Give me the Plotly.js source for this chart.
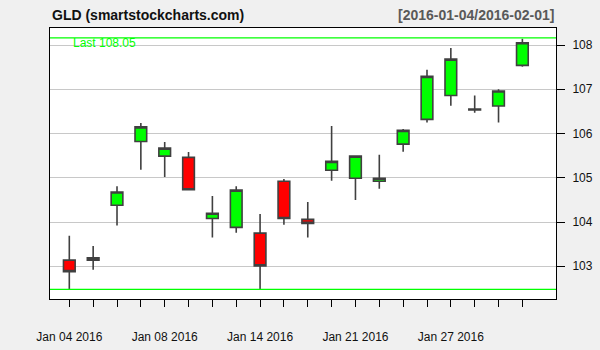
<!DOCTYPE html>
<html>
<head>
<meta charset="utf-8">
<script src="https://cdn.plot.ly/plotly-3.0.1.min.js"></script>
<style>
  html, body { margin: 0; padding: 0; background: #f0f0f0; }
  #chart { width: 600px; height: 350px; }
</style>
</head>
<body>
<div id="chart"></div>
<script>
const dates = ['2016-01-04','2016-01-05','2016-01-06','2016-01-07','2016-01-08',
               '2016-01-11','2016-01-12','2016-01-13','2016-01-14','2016-01-15',
               '2016-01-19','2016-01-20','2016-01-21','2016-01-22','2016-01-25',
               '2016-01-26','2016-01-27','2016-01-28','2016-01-29','2016-02-01'];
const openV  = [103.14,103.14,104.38,105.82,105.49,105.46,104.08,103.88,103.75,104.92,
                104.06,105.17,104.99,104.92,105.76,106.32,106.86,106.53,106.62,107.54];
const highV  = [103.69,103.46,104.81,106.24,105.81,105.58,104.59,104.81,104.18,104.97,
                104.45,106.17,105.49,105.52,106.10,107.44,107.93,106.86,107.00,108.14];
const lowV   = [102.48,102.92,103.92,105.18,105.02,104.71,103.65,103.76,102.48,103.94,
                103.65,104.93,104.50,104.75,105.59,106.25,106.63,106.47,106.25,107.51];
const closeV = [102.88,103.19,104.68,106.15,105.67,104.73,104.20,104.72,103.01,104.08,
                103.97,105.37,105.49,104.99,106.07,107.29,107.68,106.55,106.96,108.05];
const labelDates = ['2016-01-04','2016-01-08','2016-01-14','2016-01-21','2016-01-27'];
const labelText  = ['Jan 04 2016','Jan 08 2016','Jan 14 2016','Jan 21 2016','Jan 27 2016'];
const yTicks = [103,104,105,106,107,108];
const titleText = 'GLD (smartstockcharts.com)';
const rangeText = '[2016-01-04/2016-02-01]';
const lastText = 'Last ' + closeV[closeV.length-1].toFixed(2);

const tickText = dates.map(d => { const i = labelDates.indexOf(d); return i >= 0 ? labelText[i] : ''; });
const maxHigh = Math.max(...highV);
const minLow = Math.min(...lowV);

const FONT = '"Liberation Sans", Arial, sans-serif';
const W = 506, H = 271, L = 50, T = 28;
const px = x => (x - L) / W;
const py = y => (T + H - y) / H;

const trace = {
  type: 'candlestick',
  x: dates, open: openV, high: highV, low: lowV, close: closeV,
  increasing: { line: { color: '#404040', width: 1.6 }, fillcolor: '#00ff00' },
  decreasing: { line: { color: '#404040', width: 1.6 }, fillcolor: '#ff0000' },
  whiskerwidth: 0,
  hoverinfo: 'skip'
};

const layout = {
  width: 600, height: 350,
  margin: { l: 50, r: 44, t: 28, b: 51 },
  paper_bgcolor: '#f0f0f0',
  plot_bgcolor: '#ffffff',
  showlegend: false,
  font: { family: FONT, size: 12, color: '#111' },
  xaxis: {
    type: 'category',
    rangeslider: { visible: false },
    range: [-0.81, 20.41],
    tickmode: 'array', tickvals: dates, ticktext: tickText,
    ticks: 'outside', ticklen: 7, tickwidth: 1, tickcolor: '#000',
    ticklabelstandoff: 20,
    tickangle: 0,
    showgrid: false, zeroline: false,
    showline: true, linecolor: '#000', linewidth: 1, mirror: true,
    tickfont: { family: FONT, size: 12, color: '#111' }
  },
  yaxis: {
    side: 'right',
    range: [102.261, 108.384],
    tickmode: 'array', tickvals: yTicks,
    ticks: 'outside', ticklen: 8, tickwidth: 1, tickcolor: '#000',
    ticklabelstandoff: 5,
    showgrid: true, gridcolor: '#c8c8c8', gridwidth: 1,
    zeroline: false,
    showline: true, linecolor: '#000', linewidth: 1, mirror: true,
    tickfont: { family: FONT, size: 12, color: '#111' }
  },
  shapes: [
    { type: 'line', xref: 'paper', x0: 0, x1: 1, yref: 'y', y0: maxHigh + 0.02, y1: maxHigh + 0.02,
      line: { color: '#00ff00', width: 1.3 } },
    { type: 'line', xref: 'paper', x0: 0, x1: 1, yref: 'y', y0: minLow, y1: minLow,
      line: { color: '#00ff00', width: 1.3 } }
  ],
  annotations: [
    { text: '<b>' + titleText + '</b>', xref: 'paper', yref: 'paper', x: px(50), y: py(15),
      xanchor: 'left', yanchor: 'middle', showarrow: false,
      font: { family: FONT, size: 14, color: '#111' } },
    { text: '<b>' + rangeText + '</b>', xref: 'paper', yref: 'paper', x: px(556), y: py(15),
      xanchor: 'right', yanchor: 'middle', showarrow: false,
      font: { family: FONT, size: 14, color: '#595959' } },
    { text: lastText, xref: 'paper', yref: 'paper', x: px(71), y: py(43),
      xanchor: 'left', yanchor: 'middle', showarrow: false,
      font: { family: FONT, size: 12, color: '#00ff00' } }
  ]
};

Plotly.newPlot('chart', [trace], layout, { staticPlot: true, displayModeBar: false });
</script>
</body>
</html>
